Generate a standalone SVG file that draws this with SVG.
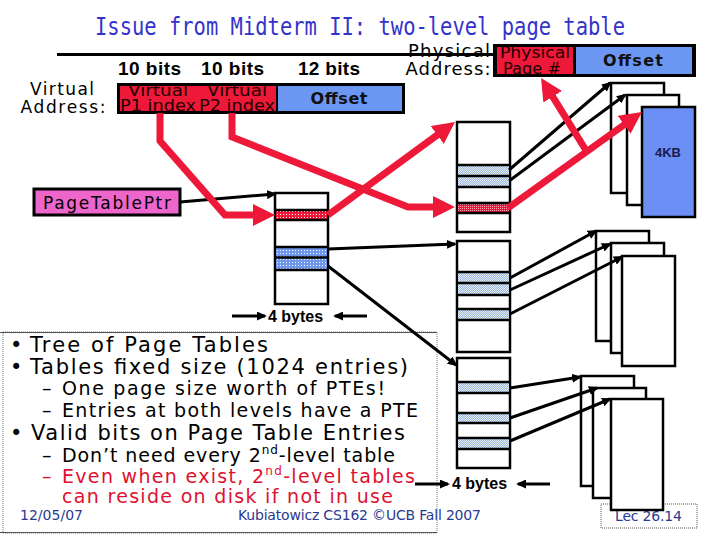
<svg xmlns="http://www.w3.org/2000/svg" width="720" height="540" viewBox="0 0 720 540">
<defs>
<style>
.tbl{fill:#fff;stroke:#000;stroke-width:2.5}
.row{stroke:#000;stroke-width:2.5}
.pg{fill:#fff;stroke:#000;stroke-width:2.5}
.red{fill:none;stroke:#ee1839;stroke-width:7;stroke-linejoin:miter}
.blk{fill:none;stroke:#000;stroke-width:3}
.cs{font-family:"DejaVu Sans","Noto Sans",sans-serif}
.b{font-family:"DejaVu Sans","Noto Sans",sans-serif;fill:#000}
.r{font-family:"DejaVu Sans","Noto Sans",sans-serif;fill:#e0102f}
.ar{font-family:"Liberation Sans",Arial,sans-serif;font-weight:bold}
.foot{font-family:"DejaVu Sans","Noto Sans",sans-serif;fill:#2b3990;font-size:14px}
.cell{font-family:"DejaVu Sans","Noto Sans",sans-serif;fill:#220000;font-size:15px;text-anchor:middle}
.off{font-family:"DejaVu Sans","Noto Sans",sans-serif;font-weight:bold;fill:#111;font-size:16px;text-anchor:middle}
</style>
<pattern id="pb1" width="3" height="3" patternUnits="userSpaceOnUse"><rect width="3" height="3" fill="#6f98ec"/><rect x="1" y="1" width="1" height="1" fill="#fff"/></pattern>
<pattern id="pb2" width="2" height="2" patternUnits="userSpaceOnUse"><rect width="2" height="2" fill="#9fbadb"/><rect width="1" height="1" fill="#e3ebf4"/><rect x="1" y="1" width="1" height="1" fill="#e3ebf4"/></pattern>
<pattern id="pr" width="3" height="3" patternUnits="userSpaceOnUse"><rect width="3" height="3" fill="#ee1839"/><rect x="1" y="1" width="1" height="1" fill="#fff"/></pattern>
<pattern id="pr2" width="2" height="2" patternUnits="userSpaceOnUse"><rect width="2" height="2" fill="#e8183a"/><rect width="1" height="1" fill="#f5a3b3"/></pattern>
<clipPath id="cv"><rect x="120" y="86" width="156" height="25"/></clipPath>
<clipPath id="cp"><rect x="497" y="47" width="76" height="27"/></clipPath>
<marker id="ar" markerUnits="userSpaceOnUse" markerWidth="22" markerHeight="22" refX="10" refY="11" orient="auto" viewBox="0 0 22 22"><path d="M0,0 L22,11 L0,22 z" fill="#ee1839"/></marker>
<marker id="ab" markerUnits="userSpaceOnUse" markerWidth="10" markerHeight="9" refX="8" refY="4.5" orient="auto" viewBox="0 0 10 9"><path d="M0,0 L10,4.5 L0,9 z" fill="#000"/></marker>
</defs>
<rect width="720" height="540" fill="#fff"/>

<text x="360" y="35" font-family="'DejaVu Sans Mono',monospace" font-size="24" fill="#3333cc" text-anchor="middle" textLength="530" lengthAdjust="spacingAndGlyphs">Issue from Midterm II: two-level page table</text>

<g id="virtual-address">
<text class="cs" x="62" y="95" font-size="17" text-anchor="middle" textLength="64">Virtual</text>
<text class="cs" x="63" y="113" font-size="17" text-anchor="middle" textLength="85">Address:</text>
<text class="ar" x="118" y="75" font-size="19" textLength="63">10 bits</text>
<text class="ar" x="201" y="75" font-size="19" textLength="63">10 bits</text>
<text class="ar" x="298" y="75" font-size="19" textLength="62">12 bits</text>
<rect x="117" y="83" width="288" height="31" fill="#000"/>
<rect x="120" y="86" width="156" height="25" fill="#ee1839"/>
<rect x="278" y="86" width="124" height="25" fill="#6b96f2"/>
<g clip-path="url(#cv)">
<text class="cell" x="158" y="96" textLength="60" lengthAdjust="spacingAndGlyphs">Virtual</text>
<text class="cell" x="237" y="96" textLength="60" lengthAdjust="spacingAndGlyphs">Virtual</text>
<text class="cell" x="158" y="111" textLength="76" lengthAdjust="spacingAndGlyphs">P1 index</text>
<text class="cell" x="237" y="111" textLength="76" lengthAdjust="spacingAndGlyphs">P2 index</text>
</g>
<text class="off" x="339" y="104" textLength="57">Offset</text>
</g>

<g id="physical-address">
<text class="cs" x="449" y="57" font-size="18" text-anchor="middle" textLength="82">Physical</text>
<text class="cs" x="448" y="75" font-size="18" text-anchor="middle" textLength="85">Address:</text>
<rect x="493" y="44" width="203" height="33" fill="#000"/>
<rect x="497" y="47" width="76" height="27" fill="#ee1839"/>
<rect x="576" y="47" width="116" height="27" fill="#6b96f2"/>
<g clip-path="url(#cp)">
<text class="cell" x="535" y="58" textLength="70" lengthAdjust="spacingAndGlyphs">Physical</text>
<text class="cell" x="532" y="74" textLength="58" lengthAdjust="spacingAndGlyphs">Page #</text>
</g>
<text class="off" x="633" y="66" textLength="60">Offset</text>
</g>
<path d="M57,54.5 H494" stroke="#000" stroke-width="3"/>

<g id="page-table-ptr">
<rect x="34" y="189" width="146" height="26" fill="#ee66cc" stroke="#000" stroke-width="3"/>
<text class="cs" x="43" y="209" font-size="17" textLength="128">PageTablePtr</text>
</g>

<g id="text-box">
<rect x="3" y="332" width="434" height="201" fill="none" stroke="#777" stroke-width="1" stroke-dasharray="1 1"/>
<path d="M0,332.5 H437 M0,532.5 H437" stroke="#555" stroke-width="1"/>
<text class="b" x="10" y="352" font-size="21">•</text>
<text class="b" x="30" y="352" font-size="21" textLength="238">Tree of Page Tables</text>
<text class="b" x="10" y="374" font-size="21">•</text>
<text class="b" x="30" y="374" font-size="21" textLength="378">Tables fixed size (1024 entries)</text>
<text class="b" x="42" y="395" font-size="19">–</text>
<text class="b" x="62" y="395" font-size="19" textLength="323">One page size worth of PTEs!</text>
<text class="b" x="42" y="417" font-size="19">–</text>
<text class="b" x="62" y="417" font-size="19" textLength="356">Entries at both levels have a PTE</text>
<text class="b" x="10" y="440" font-size="21">•</text>
<text class="b" x="31" y="440" font-size="21" textLength="374">Valid bits on Page Table Entries</text>
<text class="b" x="42" y="462" font-size="19">–</text>
<text class="b" x="62" y="462" font-size="19" textLength="333">Don’t need every 2<tspan font-size="12" dy="-8">nd</tspan><tspan dy="8">-level table</tspan></text>
<text class="r" x="42" y="483" font-size="19">–</text>
<text class="r" x="62" y="483" font-size="19" textLength="353">Even when exist, 2<tspan font-size="12" dy="-8">nd</tspan><tspan dy="8">-level tables</tspan></text>
<text class="r" x="62" y="503" font-size="19" textLength="331">can reside on disk if not in use</text>
</g>

<g id="footer">
<text class="foot" x="20" y="520" textLength="63">12/05/07</text>
<text class="foot" x="238" y="520" textLength="243">Kubiatowicz CS162 ©UCB Fall 2007</text>
<rect x="601" y="504" width="96" height="24" fill="none" stroke="#555" stroke-width="1" stroke-dasharray="1 1"/>
<text class="foot" x="615" y="521" textLength="67">Lec 26.14</text>
</g>

<g id="level1-table">
<rect class="tbl" x="275" y="193" width="53" height="111"/>
<rect x="276" y="210" width="51" height="10" fill="url(#pr)"/>
<rect x="276" y="247" width="51" height="23" fill="url(#pb1)"/>
<path class="row" d="M275,210 H328 M275,220 H328 M275,247 H328 M275,257.5 H328 M275,270 H328"/>
<text class="ar" x="268" y="322" font-size="16">4 bytes</text>
</g>

<g id="level2-table-a">
<rect class="tbl" x="457" y="122" width="53" height="110"/>
<rect x="458" y="165" width="51" height="22" fill="url(#pb2)"/>
<rect x="458" y="203" width="51" height="10" fill="url(#pr2)"/>
<path class="row" d="M457,165 H510 M457,176 H510 M457,187 H510 M457,203 H510 M457,213 H510"/>
</g>
<g id="level2-table-b">
<rect class="tbl" x="457" y="241" width="53" height="111"/>
<rect x="458" y="272" width="51" height="23" fill="url(#pb2)"/>
<rect x="458" y="309" width="51" height="11" fill="url(#pb2)"/>
<path class="row" d="M457,272 H510 M457,283 H510 M457,295 H510 M457,309 H510 M457,320 H510"/>
</g>
<g id="level2-table-c">
<rect class="tbl" x="457" y="358" width="53" height="110"/>
<rect x="458" y="382" width="51" height="11" fill="url(#pb2)"/>
<rect x="458" y="413" width="51" height="10" fill="url(#pb2)"/>
<rect x="458" y="438" width="51" height="11" fill="url(#pb2)"/>
<path class="row" d="M457,382 H510 M457,393 H510 M457,413 H510 M457,423 H510 M457,438 H510 M457,449 H510"/>
<text class="ar" x="452" y="489" font-size="16">4 bytes</text>
</g>

<g id="pages-top">
<rect class="pg" x="611" y="83" width="53" height="110"/>
<rect class="pg" x="627" y="95" width="52" height="110"/>
<rect x="642" y="107" width="53" height="110" fill="#6b8ff5" stroke="#000" stroke-width="2.5"/>
<text class="ar" x="668" y="157" font-size="13" text-anchor="middle" fill="#1a1a4d">4KB</text>
</g>
<g id="pages-middle">
<rect class="pg" x="596" y="231" width="53" height="110"/>
<rect class="pg" x="611" y="243" width="53" height="110"/>
<rect class="pg" x="622" y="256" width="53" height="110"/>
</g>
<g id="pages-bottom">
<rect class="pg" x="581" y="376" width="53" height="110"/>
<rect class="pg" x="593" y="388" width="53" height="110"/>
<rect class="pg" x="611" y="399" width="52" height="111"/>
</g>

<g id="connectors">
<path class="blk" d="M180,202 L275,194" marker-end="url(#ab)"/>
<path class="blk" d="M328,249 L455,244" marker-end="url(#ab)"/>
<path class="blk" d="M328,266 L456,365" marker-end="url(#ab)"/>
<path class="blk" d="M509,170 L610,83" marker-end="url(#ab)"/>
<path class="blk" d="M509,181 L625,95" marker-end="url(#ab)"/>
<path class="blk" d="M510,278 L596,231" marker-end="url(#ab)"/>
<path class="blk" d="M510,290 L610,244" marker-end="url(#ab)"/>
<path class="blk" d="M510,314 L622,257" marker-end="url(#ab)"/>
<path class="blk" d="M510,388 L580,377" marker-end="url(#ab)"/>
<path class="blk" d="M510,418 L597,388" marker-end="url(#ab)"/>
<path class="blk" d="M510,441 L610,399" marker-end="url(#ab)"/>
<path class="blk" d="M232,316 L265,316" marker-end="url(#ab)"/>
<path class="blk" d="M367,316 L335,316" marker-end="url(#ab)"/>
<path class="blk" d="M415,484 L448,484" marker-end="url(#ab)"/>
<path class="blk" d="M550,484 L518,484" marker-end="url(#ab)"/>
<path class="red" d="M160,113 V141 L225,215 H263" marker-end="url(#ar)"/>
<path class="red" d="M232,113 V137 L408,207 H443" marker-end="url(#ar)"/>
<path class="red" d="M328,215 L445.3,129.1" marker-end="url(#ar)"/>
<path class="red" d="M508,208 L632.2,119" marker-end="url(#ar)"/>
<path class="red" d="M587,152 L547.4,88.2" marker-end="url(#ar)"/>
</g>
</svg>
